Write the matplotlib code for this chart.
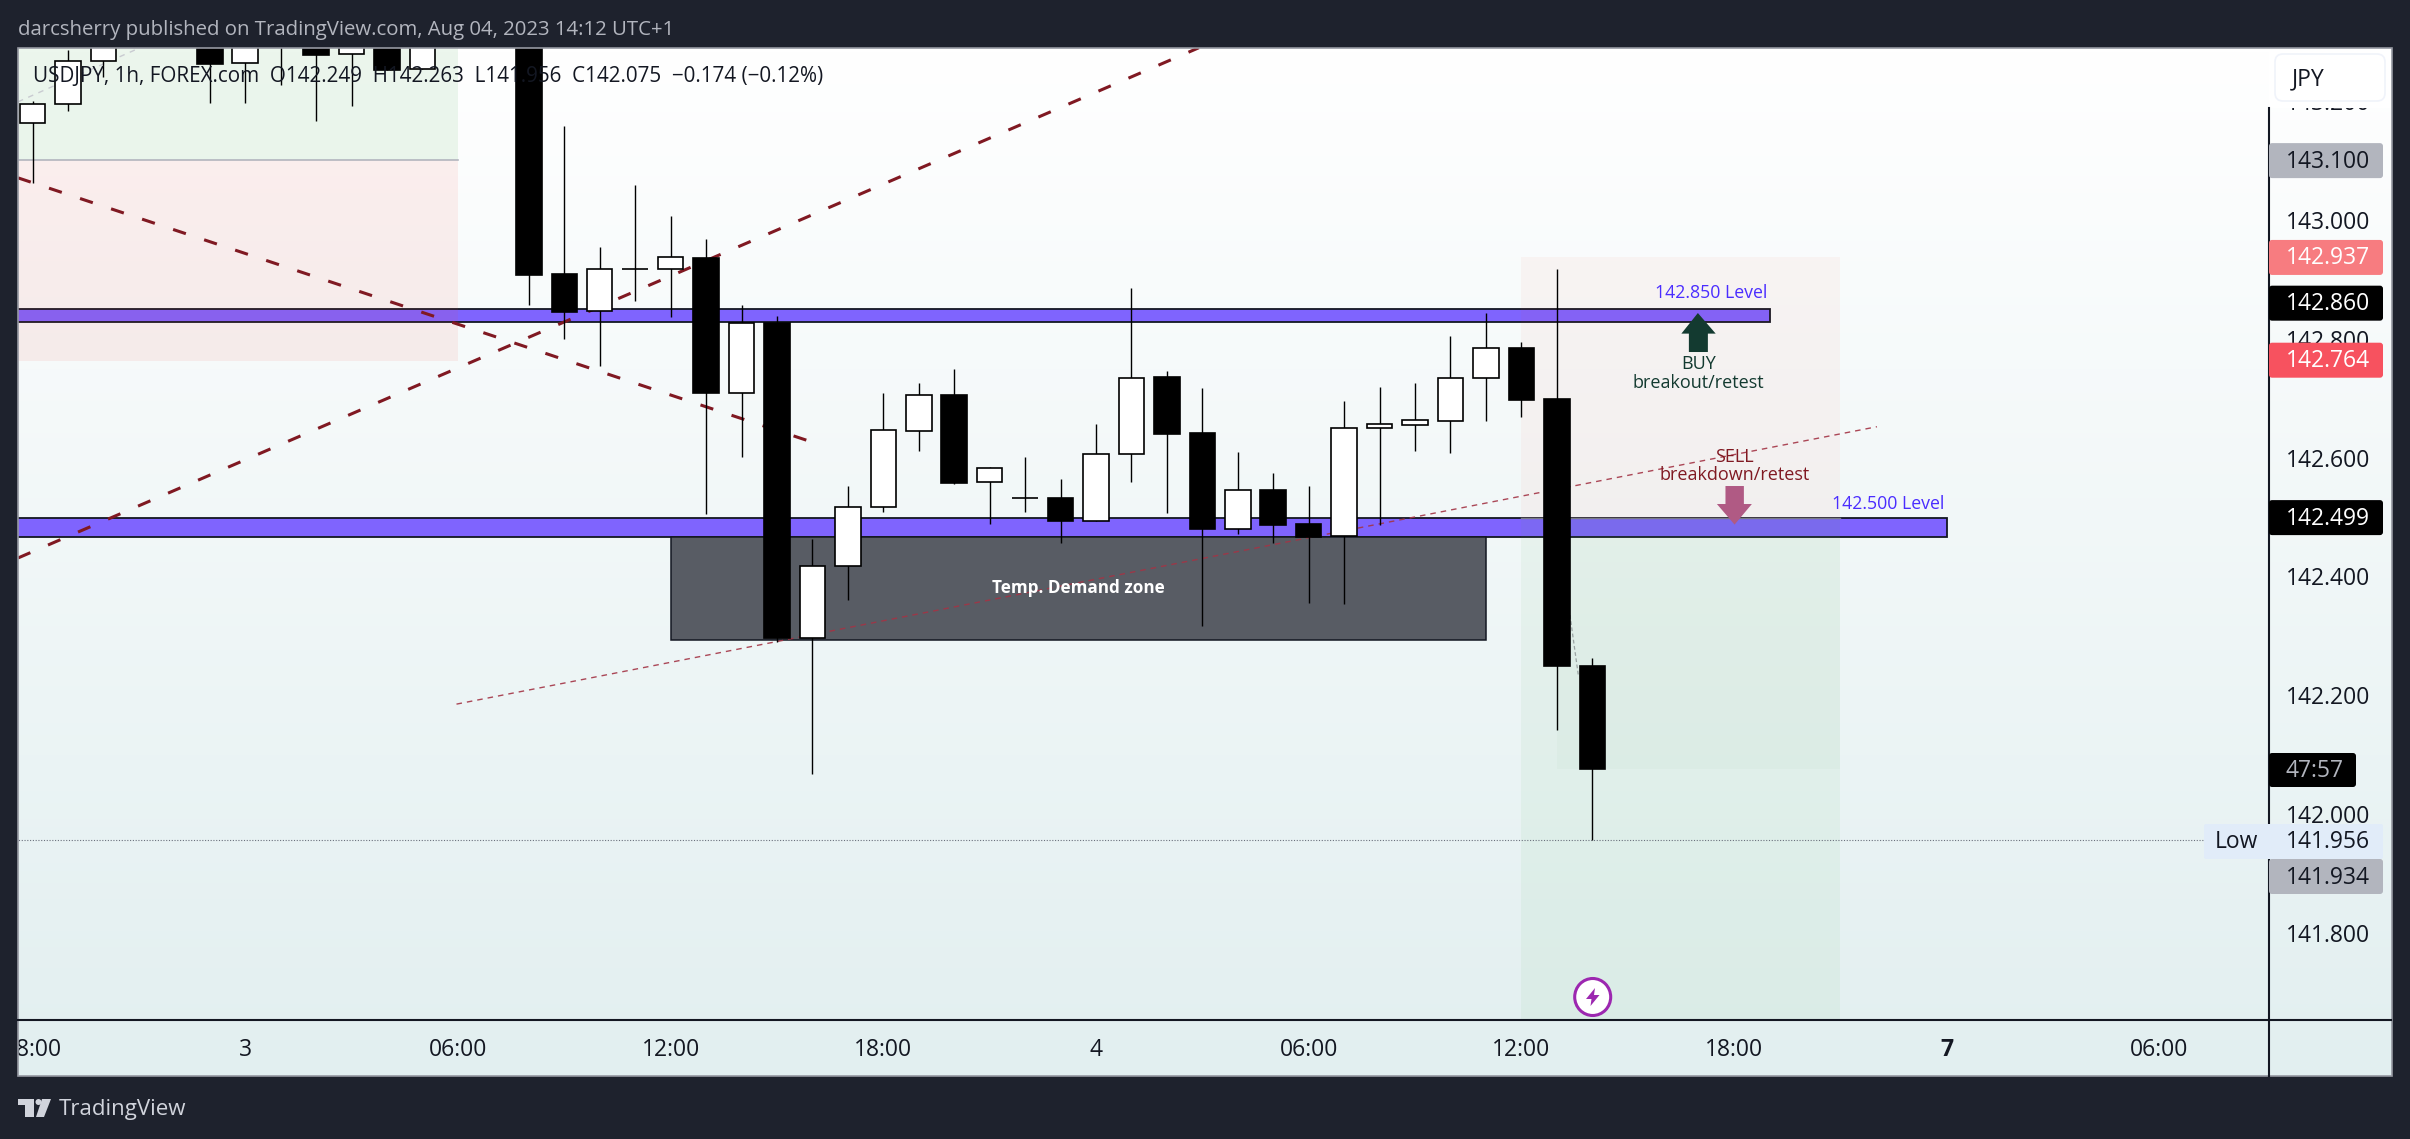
import numpy as np
import matplotlib
matplotlib.use("Agg")
import matplotlib.pyplot as plt
from matplotlib.patches import Rectangle, FancyBboxPatch, Polygon, Ellipse

W, H = 2410, 1139
FONT = "Open Sans"
plt.rcParams["font.family"] = [FONT, "DejaVu Sans"]

# ---- data ----
idx = list(range(-6, 39))
opens = [143.163,143.195,143.268,143.320,143.330,143.340,143.264,143.300,143.340,143.279,143.340,143.254,143.330,143.400,
         143.400,142.909,142.847,142.918,142.918,142.936,142.708,142.827,142.296,142.418,142.517,142.645,142.705,142.559,
         142.532,142.532,142.493,142.606,142.736,142.641,142.480,142.545,142.488,142.468,142.650,142.655,142.662,142.734,142.785,142.698,142.249]
closes = [143.195,143.268,143.320,143.340,143.310,143.263,143.330,143.330,143.278,143.340,143.253,143.330,143.360,143.360,
          142.907,142.845,142.918,142.918,142.937,142.708,142.827,142.296,142.418,142.517,142.646,142.705,142.557,142.582,
          142.532,142.493,142.606,142.734,142.640,142.480,142.545,142.487,142.466,142.650,142.657,142.663,142.734,142.785,142.697,142.249,142.075]
highs = [143.200,143.286,143.340,143.350,143.350,143.350,143.350,143.350,143.350,143.350,143.350,143.350,143.370,143.410,
         143.410,143.158,142.955,143.059,143.007,142.968,142.857,142.838,142.463,142.552,142.709,142.726,142.749,142.584,
         142.601,142.564,142.657,142.885,142.746,142.717,142.609,142.574,142.552,142.695,142.719,142.726,142.805,142.843,142.795,142.918,142.263]
lows = [143.062,143.184,143.241,143.305,143.305,143.197,143.197,143.227,143.167,143.192,143.253,143.254,143.305,143.340,
        142.857,142.800,142.754,142.864,142.837,142.505,142.601,142.290,142.067,142.360,142.508,142.611,142.556,142.488,
        142.508,142.456,142.493,142.559,142.507,142.316,142.471,142.456,142.355,142.354,142.487,142.611,142.608,142.662,142.668,142.141,141.956]

xtick_pos = [-6, 0, 6, 12, 18, 24, 30, 36, 42, 48, 54]
xtick_lab = ["18:00", "3", "06:00", "12:00", "18:00", "4", "06:00", "12:00", "18:00", "7", "06:00"]
ytick_pos = [143.2, 143.0, 142.8, 142.6, 142.4, 142.2, 142.0, 141.8]

level_bands = [(142.829, 142.851, 43), (142.467, 142.498, 48)]
tags = [(143.100, "143.100", "#b2b5be", "#131722"),
        (142.937, "142.937", "#f77c80", "#ffffff"),
        (142.860, "142.860", "#000000", "#ffffff"),
        (142.764, "142.764", "#f7525f", "#ffffff"),
        (142.499, "142.499", "#000000", "#ffffff")]

# ---- colours ----
DARK = "#1e222d"
PURPLE = "#7f64fe"
MAROON = "#801922"
BUYC = "#133a30"

fig = plt.figure(figsize=(W / 100, H / 100), dpi=100, facecolor=DARK)

def rect(l, t, r, b):
    return [l / W, (H - b) / H, (r - l) / W, (b - t) / H]

def xi(px):
    return (px - 245.3) / 35.45

def pr(py):
    return 143 + (220 - py) / 594

# background gradient
bg = fig.add_axes(rect(18, 48, 2392, 1076), zorder=0)
grad = np.linspace(0, 1, 256)[:, None]
c0, c1 = np.array([255, 255, 255]) / 255, np.array([226, 239, 240]) / 255
bg.imshow((c0 + (c1 - c0) * grad[..., None]).reshape(256, 1, 3), aspect="auto")
bg.axis("off")

# main chart
ax = fig.add_axes(rect(18, 48, 2269, 1020), zorder=1)
ax.patch.set_alpha(0)
ax.set_xlim(-6.41, 57.09)
ax.set_ylim(141.6532, 143.2896)
for s in ax.spines.values():
    s.set_visible(False)
ax.yaxis.tick_right()
ax.set_yticks(ytick_pos, [f"{v:.3f}" for v in ytick_pos])
ax.set_xticks(xtick_pos, xtick_lab)
ax.tick_params(axis="y", length=0, pad=12.2, labelsize=16.5, labelcolor="#131722")
ax.tick_params(axis="x", length=0, pad=13.2, labelsize=16.5, labelcolor="#131722")
for t in ax.get_yticklabels():
    t.set_va("center_baseline")
for t in ax.get_xticklabels():
    if t.get_text() == "7":
        t.set_fontweight("bold")

# level bands
for lo, hi, end in level_bands:
    ax.add_patch(Rectangle((-7, lo), end + 7, hi - lo, fc=PURPLE, ec="#131722", lw=1.3, zorder=2))

# position boxes
ax.add_patch(Rectangle((-7, 143.101), 13, 0.4, fc="#4caf50", alpha=0.10, ec="none", zorder=3))
ax.add_patch(Rectangle((-7, 142.763), 13, 0.338, fc="#f44336", alpha=0.08, ec="none", zorder=3))
ax.plot([-7, 6], [143.101, 143.101], color="#b2b5be", lw=1.2, zorder=3)
ax.add_patch(Rectangle((36, 142.499), 9, 0.438, fc="#f44336", alpha=0.045, ec="none", zorder=3))
ax.add_patch(Rectangle((36, 141.6), 9, 0.899, fc="#4caf50", alpha=0.06, ec="none", zorder=3))
ax.add_patch(Rectangle((37, 142.075), 8, 0.424, fc="#4caf50", alpha=0.03, ec="none", zorder=3))
ax.plot([36, 45], [142.499, 142.499], color="#787b86", lw=1.0, zorder=3)

# demand zone
ax.add_patch(Rectangle((12, 142.293), 23, 0.174, fc="#585c64", ec="#131722", lw=1.1, zorder=3))
ax.text(23.5, 142.38, "Temp. Demand zone", color="white", fontweight="bold", fontsize=12.3,
        ha="center", va="center", zorder=6)

# trend lines
ax.plot([-6.41, 16.0], [143.071, 142.626], color=MAROON, lw=2.2, dashes=(4.4, 6.3), zorder=4)
ax.plot([-6.41, 26.9], [142.431, 143.290], color=MAROON, lw=2.2, dashes=(4.4, 6.3), zorder=4)
ax.plot([5.96, 46.03], [142.185, 142.652], color="#a33445", lw=1.0, alpha=0.9, dashes=(4, 3.6), zorder=4)
ax.plot([-6.41, -2.97], [143.199, 143.290], color="#c9cbd1", lw=1.0, dashes=(4, 4), zorder=4)
ax.plot([37.37, 37.61], [142.335, 142.232], color="#9aa3a3", lw=0.9, dashes=(3, 2), zorder=4)
ax.plot([-7, 55.25], [141.956, 141.956], color="#6a707c", lw=0.8, dashes=(1, 1.5), zorder=4)

# candles
x = np.array(idx, float)
o, h, l, c = map(np.array, (opens, highs, lows, closes))
up = c >= o
ax.vlines(x, l, h, color="black", lw=1.0, zorder=5)
ax.bar(x, np.abs(c - o), 0.72, np.minimum(o, c), color=np.where(up, "#ffffff", "#000000").tolist(),
       edgecolor="black", linewidth=1.2, zorder=5.5)

# legend text sits on top of everything
ax.text(xi(32.7), pr(76),
        "USDJPY, 1h, FOREX.com  O142.249  H142.263  L141.956  C142.075  \u22120.174 (\u22120.12%)",
        color="#131722", fontsize=14.85, ha="left", va="center", zorder=7)

# notes
ax.text(xi(1698.6), pr(364), "BUY", color=BUYC, fontsize=13, ha="center", va="center", zorder=6)
ax.text(xi(1698.6), pr(382.5), "breakout/retest", color=BUYC, fontsize=13, ha="center", va="center", zorder=6)
ax.text(xi(1734.7), pr(457), "SELL", color=MAROON, fontsize=13, ha="center", va="center", zorder=6)
ax.text(xi(1734.7), pr(475), "breakdown/retest", color=MAROON, fontsize=13, ha="center", va="center", zorder=6)
ax.text(xi(1711), pr(293), "142.850 Level", color="#4a2dff", fontsize=12.8, ha="center", va="center", zorder=6)
ax.text(xi(1888), pr(504), "142.500 Level", color="#4a2dff", fontsize=12.8, ha="center", va="center", zorder=6)
ax.fill([xi(v) for v in (1698, 1715.8, 1708, 1708, 1689, 1689, 1681.5)],
        [pr(v) for v in (313, 333.6, 333.6, 352, 352, 333.6, 333.6)], color=BUYC, lw=0, zorder=6)
ax.fill([xi(v) for v in (1734.7, 1752, 1744, 1744, 1725.6, 1725.6, 1717)],
        [pr(v) for v in (524.6, 504, 504, 486, 486, 504, 504)], color="#b05a84", lw=0, zorder=6)

# chrome overlay in pixels
ov = fig.add_axes([0, 0, 1, 1], zorder=5)
ov.patch.set_alpha(0)
ov.set_xlim(0, W)
ov.set_ylim(H, 0)
ov.axis("off")

for l_, t_, r_, b_ in [(0, 0, W, 48), (0, 1076, W, H), (0, 0, 18, H), (2392, 0, W, H)]:
    ov.add_patch(Rectangle((l_, t_), r_ - l_, b_ - t_, fc=DARK, ec="none", zorder=1))
ov.add_patch(Rectangle((18, 48), 2374, 1028, fc="none", ec="#9598a1", lw=1.2, zorder=2))
ov.add_patch(Rectangle((2269, 49), 122, 59, fc="white", ec="none", zorder=2))
ov.plot([18, 2391], [1020, 1020], color="#131722", lw=1.5, zorder=3)
ov.plot([2269, 2269], [108, 1076], color="#131722", lw=1.5, zorder=3)

ov.text(18, 29.5, "darcsherry published on TradingView.com, Aug 04, 2023 14:12 UTC+1",
        color="#b2b5be", fontsize=14.7, ha="left", va="center", zorder=5)
ov.text(59, 1109, "TradingView", color="#d1d4dc", fontsize=16, ha="left", va="center", zorder=5)

# logo
ov.add_patch(Polygon([(18, 1099), (33.5, 1099), (33.5, 1117), (24.5, 1117), (24.5, 1105), (18, 1105)],
                     fc="#d1d4dc", ec="none", zorder=5))
ov.add_patch(Ellipse((38.5, 1102), 6, 6, fc="#d1d4dc", ec="none", zorder=5))
ov.add_patch(Polygon([(42, 1099), (51, 1099), (44, 1117), (36, 1117)], fc="#d1d4dc", ec="none", zorder=5))

# JPY box
ov.add_patch(FancyBboxPatch((2275, 54), 110, 47, boxstyle="round,pad=0,rounding_size=8",
                            fc="white", ec="#f0f3fa", lw=1.2, zorder=4))
ov.text(2292, 79, "JPY", color="#131722", fontsize=16.5, ha="left", va="center", zorder=5)

def ypix(price):
    return ov.transData.inverted().transform(ax.transData.transform((0, price)))[1]

TAGX = 2269
TAGR = 2383
TEXTX = 2286
for price, text, fc, tc in tags:
    y = ypix(price)
    ov.add_patch(FancyBboxPatch((TAGX, y - 17.5), TAGR - TAGX, 35, boxstyle="round,pad=0,rounding_size=3",
                                fc=fc, ec="none", zorder=4))
    ov.text(TEXTX, y + 1, text, color=tc, fontsize=16.5, ha="left", va="center", zorder=5)

# countdown tag
ov.add_patch(FancyBboxPatch((TAGX, 753), 87, 34, boxstyle="round,pad=0,rounding_size=3",
                            fc="#000000", ec="none", zorder=4))
ov.text(TEXTX, 771, "47:57", color="#b2b5be", fontsize=16.5, ha="left", va="center", zorder=5)
# low tag + stacked tag
ov.add_patch(FancyBboxPatch((2204, 824), TAGR - 2204, 35, boxstyle="round,pad=0,rounding_size=2",
                            fc="#e1ecf9", ec="none", zorder=4))
ov.text(2236, 842.5, "Low", color="#131722", fontsize=16.5, ha="center", va="center", zorder=5)
ov.text(TEXTX, 842.5, "141.956", color="#131722", fontsize=16.5, ha="left", va="center", zorder=5)
ov.add_patch(FancyBboxPatch((TAGX, 859), TAGR - TAGX, 35, boxstyle="round,pad=0,rounding_size=3",
                            fc="#b2b5be", ec="none", zorder=4))
ov.text(TEXTX, 877.5, "141.934", color="#131722", fontsize=16.5, ha="left", va="center", zorder=5)

# earnings icon
ov.add_patch(Ellipse((1592.7, 997), 36, 37, fc="white", ec="#9c27b0", lw=2.2, zorder=5))
ov.add_patch(Polygon([(1595, 988), (1586, 999), (1591.5, 999), (1590.5, 1006), (1599.5, 995), (1594, 995)],
                     fc="#9c27b0", ec="none", zorder=6))

fig.savefig("out.png", dpi=100, facecolor=DARK)
